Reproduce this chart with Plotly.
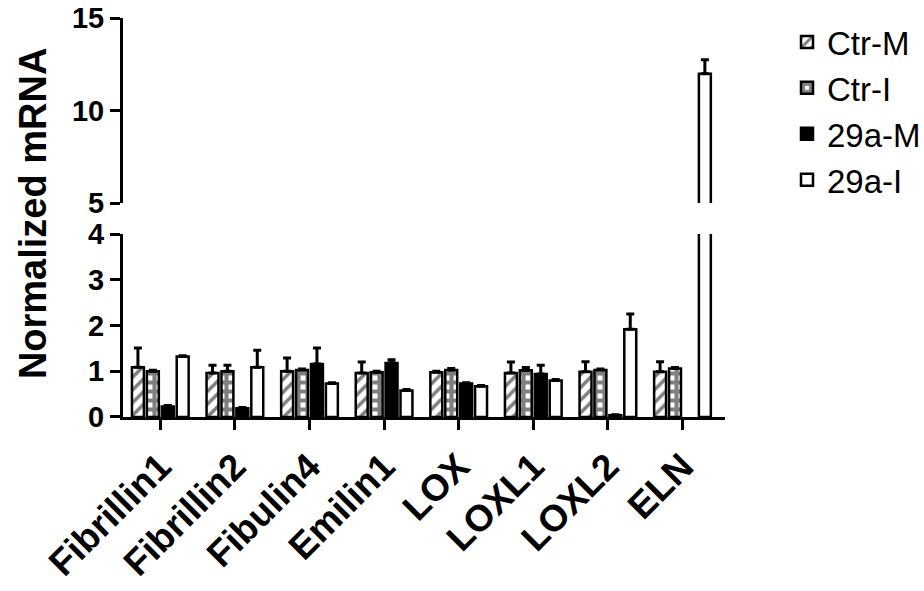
import plotly.graph_objects as go

categories = ["Fibrillin1", "Fibrillin2", "Fibulin4", "Emilin1", "LOX", "LOXL1", "LOXL2", "ELN"]
series_names = ["Ctr-M", "Ctr-I", "29a-M", "29a-I"]

ctr_m = [1.09, 0.96, 1.00, 0.96, 0.98, 0.96, 0.99, 0.99]
ctr_m_err = [0.42, 0.17, 0.29, 0.24, 0.02, 0.24, 0.22, 0.22]
ctr_i = [1.00, 1.00, 1.03, 0.98, 1.03, 1.02, 1.03, 1.06]
ctr_i_err = [0.02, 0.13, 0.02, 0.02, 0.03, 0.06, 0.02, 0.02]
m29_m = [0.23, 0.19, 1.16, 1.18, 0.73, 0.94, 0.04, None]
m29_m_err = [0.02, 0.02, 0.35, 0.07, 0.02, 0.19, 0.01, None]
m29_i = [1.32, 1.09, 0.73, 0.58, 0.67, 0.80, 1.92, 11.98]
m29_i_err = [0.02, 0.37, 0.02, 0.02, 0.02, 0.02, 0.33, 0.76]

values = [ctr_m, ctr_i, m29_m, m29_i]
errors = [ctr_m_err, ctr_i_err, m29_m_err, m29_i_err]

lower_ticks = [0, 1, 2, 3, 4]
upper_ticks = [5, 10, 15]

FONT = "Arial, Liberation Sans, sans-serif"

styles = [
    dict(color="white", pattern=dict(shape="/", fgcolor="black", bgcolor="white", size=9, solidity=0.4)),
    dict(color="white", pattern=dict(shape="+", fgcolor="black", bgcolor="white", size=9, solidity=0.7)),
    dict(color="black"),
    dict(color="white"),
]

fig = go.Figure()
x_idx = list(range(len(categories)))
for yax in ["y", "y2"]:
    for name, vals, errs, st in zip(series_names, values, errors, styles):
        fig.add_trace(go.Bar(
            x=x_idx, y=vals, name=name,
            legendgroup=name, showlegend=(yax == "y"),
            yaxis=yax, xaxis="x",
            marker=dict(line=dict(color="black", width=2.5), **st),
            error_y=dict(type="data", symmetric=False, array=errs,
                         arrayminus=[0] * len(errs), color="black",
                         thickness=3, width=4),
        ))

axis_common = dict(showline=True, linewidth=3, linecolor="black", ticks="outside",
                   ticklen=10, tickwidth=3, tickcolor="black", showgrid=False,
                   zeroline=False, automargin=False)

fig.update_layout(
    width=924, height=591,
    margin=dict(l=123, r=199, t=18, b=174, autoexpand=False),
    paper_bgcolor="white", plot_bgcolor="white",
    barmode="group", bargap=0.2, bargroupgap=0.2,
    font=dict(family=FONT, color="black"),
    xaxis=dict(domain=[0, 1], range=[-0.5, 7.57], tickvals=x_idx, ticktext=categories,
               tickangle=-45, tickfont=dict(size=37, weight="bold", family=FONT),
               anchor="y", **axis_common),
    yaxis=dict(domain=[0, 0.4586], range=[0, 4], tickvals=lower_ticks,
               tickfont=dict(size=29, weight="bold", family=FONT), anchor="x",
               **axis_common),
    yaxis2=dict(domain=[0.5363, 1], range=[5, 15], tickvals=upper_ticks,
                tickfont=dict(size=29, weight="bold", family=FONT), anchor="x",
                **axis_common),
    legend=dict(x=1.103, y=1.01, xanchor="left", yanchor="top",
                font=dict(size=33, family=FONT), tracegroupgap=0,
                bgcolor="rgba(0,0,0,0)"),
    showlegend=True,
)

fig.add_annotation(text="Normalized mRNA", xref="paper", yref="paper",
                   x=-0.1495, y=0.511, xanchor="center", yanchor="middle",
                   textangle=-90, showarrow=False,
                   font=dict(size=38, weight="bold", family=FONT))

fig.write_html("out.html")
